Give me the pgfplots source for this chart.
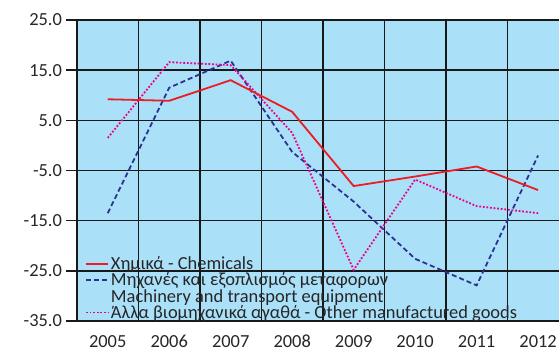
\documentclass[border=0pt]{standalone}
\usepackage{fontspec}
\setmainfont{Carlito}
\usepackage{pgfplots}
\pgfplotsset{compat=1.18}
\definecolor{bg}{RGB}{171,224,249}
\definecolor{cred}{RGB}{237,28,36}
\definecolor{cblue}{RGB}{46,49,146}
\definecolor{cmag}{RGB}{236,0,140}
\definecolor{txt}{RGB}{38,38,38}
\begin{document}
\begin{tikzpicture}[x=1bp,y=1bp]
\path[use as bounding box] (0,0) rectangle (559,353);
\begin{axis}[
  at={(77bp,32bp)}, anchor=south west,
  scale only axis, width=482bp, height=301bp,
  xmin=-0.5, xmax=7.34, ymin=-35, ymax=25,
  axis background/.style={fill=bg},
  axis line style={draw=none},
  xtick={0,1,2,3,4,5,6,7},
  xticklabels={2005,2006,2007,2008,2009,2010,2011,2012},
  minor xtick={-0.5,0.5,1.5,2.5,3.5,4.5,5.5,6.5},
  xminorgrids, ymajorgrids,
  grid style={black!90, line width=1.4bp},
  minor grid style={black!90, line width=1.4bp},
  ytick={-35,-25,-15,-5,5,15,25},
  yticklabel={\pgfmathprintnumber[fixed,fixed zerofill,precision=1]{\tick}},
  /pgf/number format/assume math mode=true,
  tick align=outside, ytick pos=left, xtick pos=bottom,
  major tick length=11bp,
  xtick style={draw=none},
  ytick style={black!90, line width=1.4bp},
  tick label style={font=\fontsize{18.5}{20}\selectfont, text=txt},
  yticklabel style={xshift=-0.5bp},
  xticklabel style={text height=12bp, text depth=0bp, yshift=0bp},
  legend style={at={(0,0)}, anchor=south west, xshift=7bp, yshift=-2bp,
    draw=none, fill=none, inner sep=1pt, row sep=-2.2bp,
    font=\fontsize{18.5}{20}\selectfont, text=txt},
  legend cell align=left,
  legend image code/.code={\draw[#1] (0bp,0bp) -- (22bp,0bp);},
]
\addlegendimage{cred, line width=1.8bp}
\addlegendentry{Χημικά - Chemicals}
\addlegendimage{cblue, line width=1.8bp, dash pattern=on 5bp off 3bp}
\addlegendentry{Μηχανές και εξοπλισμός μεταφορων}
\addlegendimage{empty legend}
\addlegendentry{Machinery and transport equipment}
\addlegendimage{cmag, line width=1.8bp, dash pattern=on 1.8bp off 1.8bp}
\addlegendentry{Άλλα βιομηχανικά αγαθά - Other manufactured goods}

\addplot[forget plot, cblue, line width=1.8bp, dash pattern=on 5bp off 3bp] coordinates {
 (0,-13.5) (1,11.5) (2,16.9) (3,-1.3) (4,-11.2) (5,-22.6) (6,-27.9) (7,-2.0)};
\addplot[forget plot, cmag, line width=1.8bp, dash pattern=on 1.8bp off 1.8bp] coordinates {
 (0,1.5) (1,16.6) (2,16.0) (3,2.5) (4,-24.8) (5,-6.8) (6,-12.1) (7,-13.5)};
\addplot[forget plot, cred, line width=1.8bp] coordinates {
 (0,9.2) (1,8.9) (2,13.0) (3,6.7) (4,-8.1) (5,-6.2) (6,-4.2) (7,-8.9)};
\end{axis}
\end{tikzpicture}
\end{document}
